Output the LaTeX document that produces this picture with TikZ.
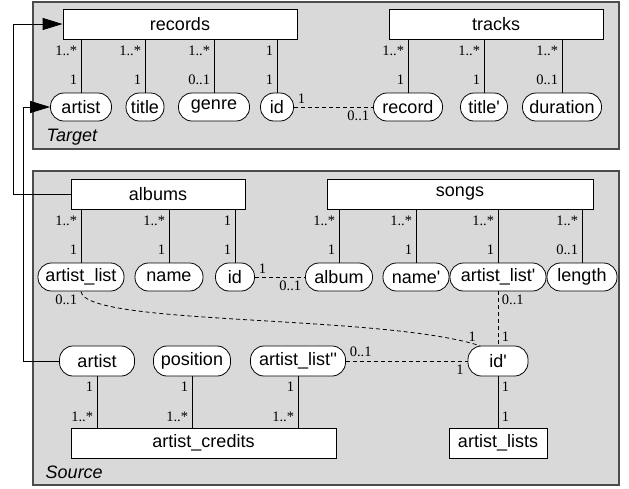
\documentclass[tikz,border=0pt]{standalone}
\usepackage{fontspec}
\setmainfont{Liberation Serif}
\setsansfont{Liberation Sans}
\usetikzlibrary{arrows.meta}

\begin{document}
\begin{tikzpicture}[x=1pt, y=-1pt, line width=0.8pt,
  region/.style={draw=black!70, line width=1.2pt, fill=black!15},
  entity/.style={draw, fill=white, minimum height=30pt, inner sep=0pt, font=\sffamily\fontsize{18}{20}\selectfont},
  field/.style={draw, fill=white, rounded corners=13.5pt, minimum height=28pt, inner sep=0pt, font=\sffamily\fontsize{18}{20}\selectfont},
  mult/.style={inner sep=3.5pt, font=\fontsize{14.5}{16}\selectfont},
  ref/.style={dash pattern=on 4pt off 3pt},
  link/.style={-{Triangle[length=20pt,width=12pt]}},
  areaname/.style={anchor=west, font=\sffamily\itshape\fontsize{18}{20}\selectfont}]
  \useasboundingbox (0,0) rectangle (629,488);
  % Target
  \draw[region] (33,2) rectangle (619,149);
  \node[areaname] (target) at (43,137) {Target};
  \node[entity, minimum width=234pt] (records) at (180,24) {records};
  \node[entity, minimum width=214pt] (tracks) at (496,24) {tracks};
  \node[field, minimum width=61pt] (tartist) at (81,107) {artist};
  \node[field, minimum width=38pt] (ttitle) at (145,107) {title};
  \node[field, minimum width=71pt] (tgenre) at (214,107) {genre};
  \node[field, minimum width=33pt] (tid) at (277,107) {id};
  \node[field, minimum width=69pt] (trecord) at (408,107) {record};
  \node[field, minimum width=47pt] (ttitle2) at (484,107) {title\textquotesingle};
  \node[field, minimum width=79pt] (tduration) at (562,107) {duration};
  \foreach \f/\t/\a/\b in {tartist/records/1/1..*, ttitle/records/1/1..*, tgenre/records/0..1/1..*, tid/records/1/1,
      trecord/tracks/1/1..*, ttitle2/tracks/1/1..*, tduration/tracks/0..1/1..*}
    \draw (\f) -- node[mult, pos=0.24, left] {\a} node[mult, pos=0.78, left] {\b} (\f |- \t.south);
  \draw[ref] (tid) -- node[mult, pos=0, above right] {1} node[mult, pos=1, below left] {0..1} (trecord);
  % Source
  \draw[region] (33,171) rectangle (619,485);
  \node[areaname] (source) at (42,472) {Source};
  \node[entity, minimum width=174pt] (albums) at (158,194) {albums};
  \node[entity, minimum width=266pt] (songs) at (460,194) {songs};
  \node[field, minimum width=86pt] (sartistlist) at (81,277) {artist\_list};
  \node[field, minimum width=68pt] (sname) at (169,277) {name};
  \node[field, minimum width=39pt] (sid) at (235,277) {id};
  \node[field, minimum width=67pt] (salbum) at (339,277) {album};
  \node[field, minimum width=66pt] (sname2) at (416,277) {name\textquotesingle};
  \node[field, minimum width=96pt] (sartistlist2) at (498,277) {artist\_list\textquotesingle};
  \node[field, minimum width=70pt] (slength) at (582,277) {length};
  \foreach \f/\t/\a/\b in {sartistlist/albums/1/1..*, sname/albums/1/1..*, sid/albums/1/1,
      salbum/songs/1/1..*, sname2/songs/1/1..*, sartistlist2/songs/1/1..*, slength/songs/0..1/1..*}
    \draw (\f) -- node[mult, pos=0.24, left] {\a} node[mult, pos=0.78, left] {\b} (\f |- \t.south);
  \draw[ref] (sid) -- node[mult, pos=0, above right] {1} node[mult, pos=1, below left] {0..1} (salbum);
  \node[field, minimum width=75pt, minimum height=30pt] (sartist) at (97,361) {artist};
  \node[field, minimum width=77pt, minimum height=30pt] (sposition) at (192,361) {position};
  \node[field, minimum width=95pt, minimum height=30pt] (sartistlist3) at (298,361) {artist\_list\textquotesingle\textquotesingle};
  \node[field, minimum width=60pt, minimum height=30pt] (sid2) at (498,361) {id\textquotesingle};
  \node[entity, minimum width=265pt] (artistcredits) at (203.5,443) {artist\_credits};
  \node[entity, minimum width=98pt] (artistlists) at (498,443) {artist\_lists};
  \foreach \f in {sartist, sposition, sartistlist3}
    \draw (\f) -- node[mult, pos=0.21, left] {1} node[mult, pos=0.79, left] {1..*} (\f |- artistcredits.north);
  \draw (sid2) -- node[mult, pos=0.21, right] {1} node[mult, pos=0.79, right] {1} (artistlists);
  \draw[ref] (sartistlist2) -- node[mult, pos=0, below right] {0..1} node[mult, pos=1, above right] {1} (sid2);
  \draw[ref] (sartistlist3) -- node[mult, pos=0, above right] {0..1} node[mult, pos=1, below left] {1} (sid2);
  \draw[ref] (sartistlist.south) .. controls (85,326) and (380,314) ..
    node[mult, pos=0, below left] {0..1} node[mult, pos=1, above left] {1} (sid2.140);
  % Mappings
  \draw[link] (albums.west) -- ++(-57,0) |- (records.west);
  \draw[link] (sartist.west) -- ++(-36,0) |- (tartist.west);
\end{tikzpicture}
\end{document}
